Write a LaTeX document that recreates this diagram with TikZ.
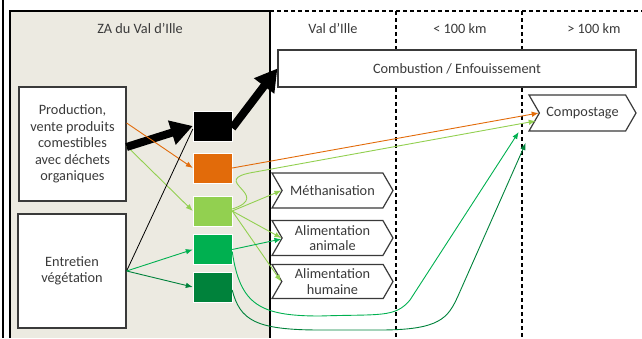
\documentclass[tikz,border=0pt]{standalone}
\usepackage{fontspec}
\setmainfont{Carlito}
\usetikzlibrary{shapes.symbols}
\usetikzlibrary{arrows.meta}
\definecolor{zaFill}{HTML}{ECEAE1}
\definecolor{txtGray}{HTML}{3A3A3A}
\definecolor{wasteOrange}{HTML}{E26B0A}
\definecolor{lightGreen}{HTML}{92D050}
\definecolor{midGreen}{HTML}{00B050}
\definecolor{darkGreen}{HTML}{00823B}
\begin{document}
\begin{tikzpicture}
[x=1pt,y=-1pt,%
  boxDecorate/.style={draw=txtGray,line width=1.2pt,fill=white,text=txtGray,align=center,inner sep=2pt},%
  signalDecorate/.style={shape=signal,signal from=west,signal to=east,signal pointer angle=120,draw=txtGray,line width=1.2pt,fill=white,text=txtGray,align=center,minimum width=121pt,minimum height=35pt,inner sep=1pt},%
  squareDecorate/.style={minimum width=39pt,minimum height=30pt,inner sep=0pt,draw=white,line width=0.4pt},%
  lineDecorate/.style={-{Latex[length=7pt,width=5.5pt]},line width=0.9pt},%
  thickDecorate/.style={line width=8pt,-{Triangle[length=22pt,width=24pt]}},%
  zoneDecorate/.style={dash pattern=on 4pt off 3pt,line width=1.6pt},%
  headDecorate/.style={text=txtGray}]
\fontsize{14.3}{16.5}\selectfont
\useasboundingbox (0,0) rectangle (642,338);
%% zones
\fill[zaFill] (10,11) rectangle (270,338);
\draw[line width=2pt] (10,338) -- (10,11) -- (270,11) -- (270,338);
\draw[line width=2pt] (2.5,0) -- (2.5,338);
\draw[zoneDecorate] (270,11) -- (642,11);
\draw[zoneDecorate] (396,11) -- (396,338);
\draw[zoneDecorate] (522,11) -- (522,338);
%% zone headers
\node[headDecorate] (hZa) at (140,29) {ZA du Val d’Ille};
\node[headDecorate] (hVal) at (333,29) {Val d’Ille};
\node[headDecorate] (hNear) at (460,29) {< 100 km};
\node[headDecorate] (hFar) at (594,29) {> 100 km};
%% sources
\node[boxDecorate,minimum width=107pt,minimum height=114pt] (prod) at (72.5,144)
  {Production,\\vente produits\\comestibles\\avec déchets\\organiques};
\node[boxDecorate,minimum width=108pt,minimum height=114pt] (ent) at (72,271)
  {Entretien\\végétation};
%% waste squares
\foreach \sqname/\y/\col in {sqBlack/126/black, sqOrange/168/wasteOrange,
  sqLight/211/lightGreen, sqMid/249.5/midGreen, sqDark/287/darkGreen}
{
  \node[squareDecorate,fill=\col] (\sqname) at (212.5,\y) {};
}
%% outlets
\node[boxDecorate,minimum width=358pt,minimum height=37pt] (comb) at (457,68.5) {Combustion / Enfouissement};
\node[signalDecorate,minimum width=107pt,minimum height=36pt] (comp) at (582.5,113) {Compostage};
\node[signalDecorate] (meth) at (332.5,190.5) {Méthanisation};
\node[signalDecorate,font=\fontsize{14.3}{15.5}\selectfont] (anim) at (332.5,238) {Alimentation\\animale};
\node[signalDecorate,font=\fontsize{14.3}{15.5}\selectfont,minimum height=34pt] (hum) at (332.5,281.5) {Alimentation\\humaine};
%% flows from sources
\draw[lineDecorate,lightGreen] ([yshift=-2pt]prod.east) -- (sqLight.west);
\draw[thickDecorate] ([yshift=-3pt]prod.east) -- (sqBlack.west);
\draw[lineDecorate,wasteOrange] ([yshift=21pt]prod.east) -- (sqOrange.west);
\draw[line width=0.8pt] (ent.east) -- ([yshift=-3pt]sqBlack.west);
\draw[lineDecorate,midGreen] (ent.east) -- (sqMid.west);
\draw[lineDecorate,darkGreen] (ent.east) -- (sqDark.west);
%% flows to outlets
\draw[thickDecorate] ([yshift=-2pt]sqBlack.east) -- (comb.west);
\draw[lineDecorate,wasteOrange] (sqOrange.east) -- (comp.west);
\draw[lineDecorate,lightGreen] ([yshift=2pt]sqLight.east) .. controls (275,195) and (205,180) .. (255,172) -- ([xshift=-3pt,yshift=-8pt]comp.west);
\draw[lineDecorate,lightGreen] (sqLight.east) -- (meth.west);
\draw[lineDecorate,lightGreen] (sqLight.east) -- (anim.west);
\draw[lineDecorate,lightGreen] (sqLight.east) -- (hum.west);
\draw[lineDecorate,midGreen] (sqMid.east) -- ([yshift=-1pt]anim.west);
\draw[lineDecorate,midGreen] ([yshift=-2pt]sqMid.east) .. controls (240,305) and (260,316) .. (320,316)
  .. controls (380,314) and (395,318) .. (410,300) -- ([xshift=-20pt,yshift=-19pt]comp.west);
\draw[lineDecorate,darkGreen] ([yshift=-3pt]sqDark.east) .. controls (240,320) and (255,330) .. (320,330)
  -- (380,330) .. controls (440,330) and (448,318) .. (458,296) -- ([xshift=-13pt,yshift=-30pt]comp.west);
\end{tikzpicture}
\end{document}
